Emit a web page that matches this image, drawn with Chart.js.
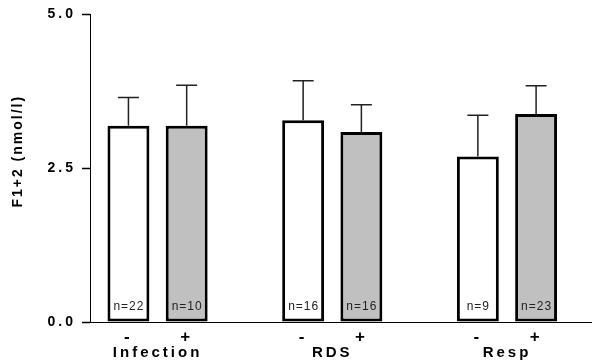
<!DOCTYPE html>
<html>
<head>
<meta charset="utf-8">
<script src="https://cdn.jsdelivr.net/npm/chart.js@4.4.0/dist/chart.umd.min.js"></script>
<style>
  html, body { margin: 0; padding: 0; background: #fff; }
  #wrap { width: 592px; height: 364px; }
</style>
</head>
<body>
<div id="wrap"><canvas id="myChart"></canvas></div>
<script>
// values
const groups = ['Infection', 'RDS', 'Resp'];
const signs = ['-', '+', '-', '+', '-', '+'];
const positions = [0, 1, 3, 4, 6, 7];
const means = [3.19, 3.19, 3.28, 3.09, 2.69, 3.38];
const errors = [0.46, 0.66, 0.64, 0.44, 0.67, 0.46];
const counts = [22, 10, 16, 16, 9, 23];
const yTicks = [0, 2.5, 5];
const yTitle = 'F1+2 (nmol/l)';

const groupPositions = [0.5, 3.5, 6.5];
const fills = signs.map(s => s === '+' ? '#c0c0c0' : '#ffffff');
const FONT = 'Liberation Sans, Arial, sans-serif';

const spacing = {
  id: 'spacing',
  beforeDraw(chart) {
    chart.ctx.letterSpacing = '3px';
  }
};

const errorBars = {
  id: 'errorBars',
  afterDatasetsDraw(chart) {
    const ctx = chart.ctx;
    const x = chart.scales.x;
    const y = chart.scales.y;
    ctx.save();
    ctx.strokeStyle = '#222';
    ctx.lineWidth = 1.5;
    positions.forEach((p, i) => {
      const px = x.getPixelForValue(p);
      const top = y.getPixelForValue(means[i] + errors[i]);
      const base = y.getPixelForValue(means[i]);
      ctx.beginPath();
      ctx.moveTo(px, base);
      ctx.lineTo(px, top);
      ctx.moveTo(px - 10.5, top);
      ctx.lineTo(px + 10.5, top);
      ctx.stroke();
    });
    // n= labels inside the bars
    ctx.letterSpacing = '1px';
    ctx.fillStyle = '#222';
    ctx.font = '12px ' + FONT;
    ctx.textAlign = 'center';
    ctx.textBaseline = 'middle';
    const bottom = y.getPixelForValue(0);
    positions.forEach((p, i) => {
      ctx.fillText('n=' + counts[i], x.getPixelForValue(p) + 0.5, bottom - 15);
    });
    ctx.restore();
  }
};

// y axis title, sits a little above the middle of the axis
const axisTitle = {
  id: 'axisTitle',
  afterDraw(chart) {
    const ctx = chart.ctx;
    const area = chart.chartArea;
    ctx.save();
    ctx.letterSpacing = '2px';
    ctx.fillStyle = '#000';
    ctx.font = 'bold 14px ' + FONT;
    ctx.translate(18, (area.top + area.bottom) / 2 - 16);
    ctx.rotate(-Math.PI / 2);
    ctx.textAlign = 'center';
    ctx.textBaseline = 'middle';
    ctx.fillText(yTitle, 1, 0);
    ctx.restore();
  }
};

new Chart(document.getElementById('myChart').getContext('2d'), {
  type: 'bar',
  data: {
    datasets: [{
      data: positions.map((p, i) => ({ x: p, y: means[i] })),
      backgroundColor: fills,
      borderColor: '#000',
      borderWidth: 3,
      borderSkipped: false
    }]
  },
  options: {
    responsive: true,
    maintainAspectRatio: false,
    animation: false,
    layout: { padding: { top: 14, right: 0, bottom: 0, left: 0 } },
    plugins: {
      legend: { display: false },
      tooltip: { enabled: false }
    },
    scales: {
      x: {
        type: 'linear',
        position: 'bottom',
        offset: false,
        min: -0.66,
        max: 7.96,
        afterBuildTicks: s => { s.ticks = positions.map(v => ({ value: v })); },
        afterFit: s => { s.height = 22; },
        grid: { display: false },
        border: { display: true, color: '#000', width: 1 },
        ticks: {
          autoSkip: false,
          maxRotation: 0,
          padding: -3,
          color: '#000',
          font: { family: FONT, size: 17, weight: 'bold' },
          callback: v => signs[positions.indexOf(v)]
        }
      },
      x2: {
        type: 'linear',
        position: 'bottom',
        offset: false,
        min: -0.66,
        max: 7.96,
        afterBuildTicks: s => { s.ticks = groupPositions.map(v => ({ value: v })); },
        afterFit: s => { s.height = 20; },
        grid: { display: false },
        border: { display: false },
        ticks: {
          autoSkip: false,
          maxRotation: 0,
          padding: -8,
          color: '#000',
          font: { family: FONT, size: 15, weight: 'bold' },
          callback: v => groups[groupPositions.indexOf(v)]
        }
      },
      y: {
        min: 0,
        max: 5,
        afterBuildTicks: s => { s.ticks = yTicks.map(v => ({ value: v })); },
        afterFit: s => { s.width = 90; },
        grid: { drawOnChartArea: false, tickLength: 8, color: '#000', tickWidth: 1.5 },
        border: { display: true, color: '#000', width: 1 },
        ticks: {
          padding: 6,
          color: '#000',
          font: { family: FONT, size: 14, weight: 'bold' },
          callback: v => v.toFixed(1)
        }
      }
    }
  },
  plugins: [spacing, errorBars, axisTitle]
});
</script>
</body>
</html>
